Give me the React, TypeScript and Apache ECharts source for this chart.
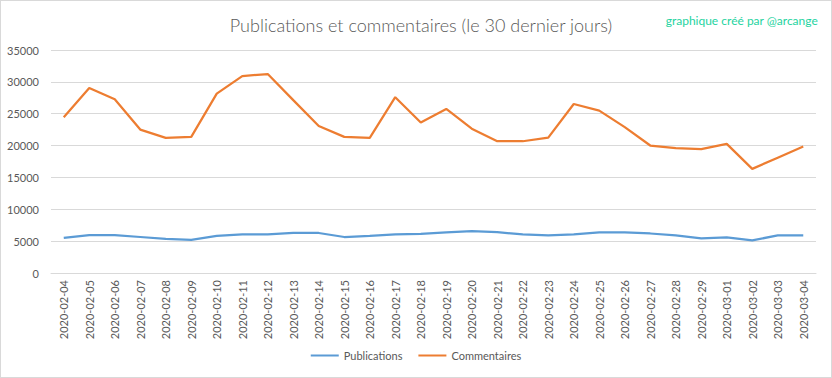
import React, { useEffect, useRef } from "react";
import * as echarts from "echarts";

const categories = [
  "2020-02-04", "2020-02-05", "2020-02-06", "2020-02-07", "2020-02-08", "2020-02-09",
  "2020-02-10", "2020-02-11", "2020-02-12", "2020-02-13", "2020-02-14", "2020-02-15",
  "2020-02-16", "2020-02-17", "2020-02-18", "2020-02-19", "2020-02-20", "2020-02-21",
  "2020-02-22", "2020-02-23", "2020-02-24", "2020-02-25", "2020-02-26", "2020-02-27",
  "2020-02-28", "2020-02-29", "2020-03-01", "2020-03-02", "2020-03-03", "2020-03-04",
];

const publications = [
  5500, 5960, 5960, 5650, 5340, 5190, 5810, 6070, 6070, 6280, 6280, 5650,
  5810, 6070, 6150, 6360, 6570, 6410, 6050, 5890, 6050, 6360, 6360, 6200,
  5890, 5430, 5580, 5120, 5890, 5890,
];

const commentaires = [
  24430, 29050, 27280, 22510, 21210, 21370, 28160, 30910, 31220, 27130, 23080, 21370,
  21210, 27590, 23630, 25750, 22650, 20680, 20680, 21250, 26530, 25490, 22900, 20010,
  19600, 19440, 20270, 16340, 18100, 19860,
];

const yTicks = { min: 0, max: 35000, interval: 5000 };

const titleText = "Publications et commentaires (le 30 dernier jours)";
const creditText = "graphique créé par @arcange";

const FONT = "Lato, 'Open Sans', sans-serif";

export default function App() {
  const ref = useRef<HTMLDivElement>(null);

  useEffect(() => {
    if (!ref.current) return;
    const chart = echarts.init(ref.current, null, { renderer: "svg" });
    chart.setOption({
      animation: false,
      backgroundColor: "#ffffff",
      textStyle: { fontFamily: FONT },
      title: [
        {
          text: titleText,
          left: 415,
          textAlign: "center",
          top: 10,
          textStyle: { fontSize: 18, fontWeight: 300, color: "#595959", fontFamily: FONT },
        },
        {
          text: creditText,
          right: 8,
          top: 8,
          textStyle: { fontSize: 12, fontWeight: "normal", color: "#1ED3A0", fontFamily: FONT },
        },
      ],
      legend: {
        bottom: 11,
        left: "center",
        itemWidth: 28,
        itemHeight: 2,
        itemGap: 16,
        icon: "rect",
        textStyle: { fontSize: 11, color: "#595959", fontFamily: FONT },
        data: ["Publications", "Commentaires"],
      },
      grid: { left: 50, right: 15, top: 49, bottom: 104 },
      xAxis: {
        type: "category",
        data: categories,
        boundaryGap: true,
        axisLine: { show: true, lineStyle: { color: "#D9D9D9" } },
        axisTick: { show: false },
        axisLabel: { rotate: 90, fontSize: 11, color: "#595959", margin: 7, fontFamily: FONT },
      },
      yAxis: {
        type: "value",
        min: yTicks.min,
        max: yTicks.max,
        interval: yTicks.interval,
        axisLine: { show: false },
        axisTick: { show: false },
        axisLabel: {
          fontSize: 11,
          color: "#595959",
          margin: 12,
          fontFamily: FONT,
          formatter: (v: number) => String(v),
        },
        splitLine: { lineStyle: { color: "#D9D9D9", width: 1 } },
      },
      series: [
        {
          name: "Publications",
          type: "line",
          data: publications,
          symbol: "none",
          lineStyle: { color: "#5B9BD5", width: 2.25 },
          itemStyle: { color: "#5B9BD5" },
        },
        {
          name: "Commentaires",
          type: "line",
          data: commentaires,
          symbol: "none",
          lineStyle: { color: "#ED7D31", width: 2.25 },
          itemStyle: { color: "#ED7D31" },
        },
      ],
    });
    return () => chart.dispose();
  }, []);

  return (
    <div
      style={{
        position: "fixed",
        left: 0,
        top: 0,
        width: 832,
        height: 378,
        boxSizing: "border-box",
        border: "1px solid #D9D9D9",
        background: "#fff",
      }}
    >
      <div ref={ref} style={{ width: 830, height: 376 }} />
    </div>
  );
}
